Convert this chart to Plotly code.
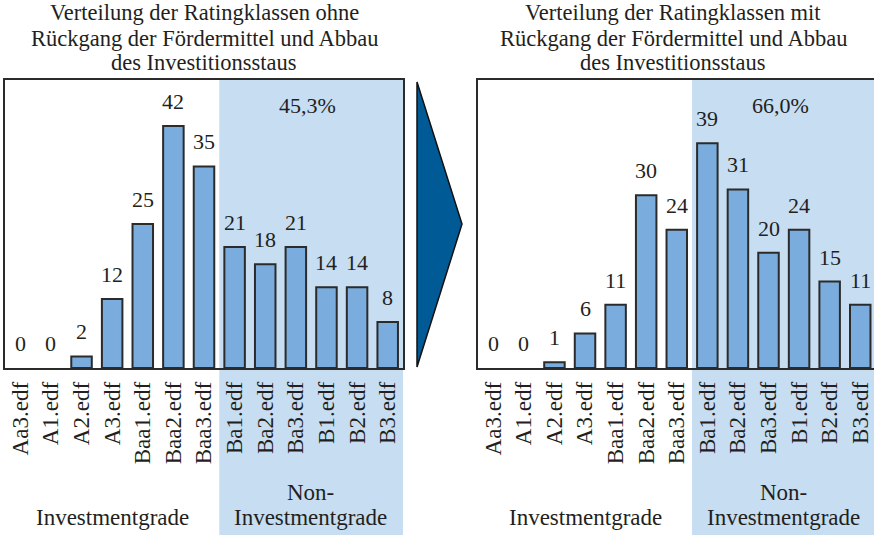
import plotly.graph_objects as go

W, H = 874, 535

klassen = ["Aa3.edf", "A1.edf", "A2.edf", "A3.edf", "Baa1.edf", "Baa2.edf", "Baa3.edf",
           "Ba1.edf", "Ba2.edf", "Ba3.edf", "B1.edf", "B2.edf", "B3.edf"]
ohne_rueckgang = [0, 0, 2, 12, 25, 42, 35, 21, 18, 21, 14, 14, 8]
mit_rueckgang = [0, 0, 1, 6, 11, 30, 24, 39, 31, 20, 24, 15, 11]
anteil_non_ig = ["45,3%", "66,0%"]
titel_links = ["Verteilung der Ratingklassen ohne",
               "Rückgang der Fördermittel und Abbau",
               "des Investitionsstaus"]
titel_rechts = ["Verteilung der Ratingklassen mit",
                "Rückgang der Fördermittel und Abbau",
                "des Investitionsstaus"]

SERIF = "Liberation Serif, Times New Roman, serif"
TXT = "#231f20"
BAR = "#7aaddd"
SHADE = "#c6ddf2"
LINE = "#2b2b2b"


def px_x(x):
    return x / W


def px_y(y):
    return 1 - y / H


def label(x, y, text, size=23):
    fig.add_annotation(x=px_x(x), y=px_y(y), xref="paper", yref="paper",
                       text=text, showarrow=False, xanchor="center", yanchor="middle",
                       font=dict(family=SERIF, size=size, color=TXT))


fig = go.Figure()

for i, vals in enumerate([ohne_rueckgang, mit_rueckgang]):
    ax = "" if i == 0 else "2"
    fig.add_trace(go.Bar(
        x=klassen, y=vals,
        xaxis="x" + ax, yaxis="y" + ax,
        marker=dict(color=BAR, line=dict(color=LINE, width=[0 if v == 0 else 2 for v in vals])),
        showlegend=False, hoverinfo="x+y",
    ))
    # Zahlen über den Balken
    for k, v in zip(klassen, vals):
        fig.add_annotation(x=k, y=v, xref="x" + ax, yref="y" + ax,
                           text=str(v), showarrow=False, xanchor="center", yanchor="bottom",
                           yshift=10, font=dict(family=SERIF, size=22, color=TXT))

y_dom = [px_y(368), px_y(80)]
axis_common = dict(showgrid=False, zeroline=False, showline=True, linecolor=LINE, linewidth=1.5)

fig.update_layout(
    width=W, height=H,
    margin=dict(l=0, r=0, t=0, b=0),
    paper_bgcolor="white", plot_bgcolor="rgba(0,0,0,0)",
    bargap=0.33,
    font=dict(family=SERIF, color=TXT),
    xaxis=dict(domain=[px_x(5), px_x(403)], range=[-0.5, 12.5], mirror=True,
               tickangle=-90, ticks="", ticklabelstandoff=3,
               tickfont=dict(family=SERIF, size=23, color=TXT), anchor="y", **axis_common),
    yaxis=dict(domain=y_dom, range=[0, 50], mirror=True, showticklabels=False, ticks="",
               anchor="x", **axis_common),
    xaxis2=dict(domain=[px_x(478), 1], range=[-0.5, 12.45], mirror=True,
                tickangle=-90, ticks="", ticklabelstandoff=3,
                tickfont=dict(family=SERIF, size=23, color=TXT), anchor="y2", **axis_common),
    yaxis2=dict(domain=y_dom, range=[0, 50], showticklabels=False, ticks="",
                anchor="x2", **axis_common),
)

# Non-Investmentgrade-Bereich hinterlegen
for ax, x1 in [("x", 12.5), ("x2", 12.45)]:
    fig.add_shape(type="rect", xref=ax, yref="paper", x0=6.5, x1=x1, y0=0, y1=y_dom[1],
                  fillcolor=SHADE, line=dict(width=0), layer="below")

# Pfeil zwischen den Diagrammen
fig.add_shape(type="path", xref="paper", yref="paper",
              path=f"M {px_x(417)},{px_y(82)} L {px_x(462)},{px_y(224)} L {px_x(417)},{px_y(367)} Z",
              fillcolor="#005a95", line=dict(color="#111111", width=1.5))

# Titel
for titel, cx in [(titel_links, 204), (titel_rechts, 673)]:
    for zeile, cy in zip(titel, [13, 39, 63]):
        label(cx, cy, zeile, size=22.5)

# Prozentangaben
for txt, cx in zip(anteil_non_ig, [307, 780]):
    label(cx, 105, txt, size=22)

# Gruppenbeschriftungen
for cx_ig, cx_non in [(112, 310), (585, 783)]:
    label(cx_ig, 517, "Investmentgrade")
    label(cx_non, 492, "Non-")
    label(cx_non, 517, "Investmentgrade")

fig.write_html("out.html", config={"displayModeBar": False},
               post_script="document.body.style.margin='0';")
